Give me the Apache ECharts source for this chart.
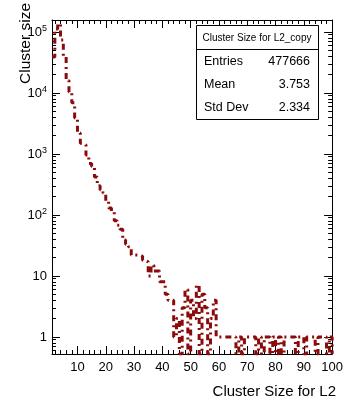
<!DOCTYPE html>
<html>
<head>
<meta charset="utf-8">
<script src="https://cdn.jsdelivr.net/npm/echarts@6/dist/echarts.min.js"></script>
<style>
  html, body { margin: 0; padding: 0; background: #fff; }
  #chart { width: 346px; height: 400px; }
</style>
</head>
<body>
<div id="chart"></div>
<script>
// cluster size histogram, bins of width 1 starting at 1
const binStart = 1;
const counts = [
  39000, 112000, 135000, 74000, 39000, 16000, 10400, 6900, 3900, 2200,
  1500, 1400, 960, 700, 620, 420, 300, 260, 230, 165,
  130, 112, 80, 68, 58, 39, 33, 30, 22, 22,
  22, 21, 18, 17, 10, 15, 12, 12, 8, 8,
  5, 4, 4, 1, 2, 0, 3, 6, 0, 4,
  2, 7, 0, 5, 3, 0, 2, 4, 1, 1,
  1, 1, 1, 1, 1, 0, 1, 0, 1, 1,
  1, 1, 0, 1, 0, 1, 1, 0, 1, 0,
  1, 0, 1, 1, 1, 1, 0, 1, 1, 0,
  1, 1, 1, 0, 1, 1, 1, 0, 1
];

const xMajorTicks = [10, 20, 30, 40, 50, 60, 70, 80, 90, 100];
const xMinorTicks = [2, 4, 6, 8, 12, 14, 16, 18, 22, 24, 26, 28, 32, 34, 36, 38,
  42, 44, 46, 48, 52, 54, 56, 58, 62, 64, 66, 68, 72, 74, 76, 78,
  82, 84, 86, 88, 92, 94, 96, 98];
const yMajorTicks = [1, 10, 100, 1000, 10000, 100000];
const yMinorTicks = [0.6, 0.7, 0.8, 0.9,
  2, 3, 4, 5, 6, 7, 8, 9, 20, 30, 40, 50, 60, 70, 80, 90,
  200, 300, 400, 500, 600, 700, 800, 900,
  2000, 3000, 4000, 5000, 6000, 7000, 8000, 9000,
  20000, 30000, 40000, 50000, 60000, 70000, 80000, 90000];

const stats = [
  ['Entries', '477666'],
  ['Mean', '3.753'],
  ['Std Dev', '2.334']
];

const X_MIN = 1, X_MAX = 100;
const Y_MIN = 0.525, Y_MAX = 157000;
const FONT = 'Liberation Sans, Arial, Helvetica, sans-serif';
const RED = '#8b0a0a';

// step outline; empty bins sit on the frame bottom like ROOT does
const pts = counts.map((c, i) => [binStart + i, c > 0 ? c : Y_MIN]);
pts.push([binStart + counts.length, pts[pts.length - 1][1]]);
pts.push([binStart + counts.length, Y_MIN]);

const line = { show: true, onZero: false, lineStyle: { color: '#000', width: 1 } };
const noLine = { show: false };

function xAxisDef(pos, ticks, len, main) {
  return {
    type: 'value', position: pos, min: X_MIN, max: X_MAX,
    axisLine: main ? line : noLine,
    splitLine: { show: false },
    axisTick: { show: true, inside: true, length: len, customValues: ticks,
      lineStyle: { color: '#000', width: 1 } },
    axisLabel: (main && pos === 'bottom') ? {
      show: true, customValues: xMajorTicks, margin: 7,
      color: '#000', fontSize: 13, fontFamily: FONT
    } : { show: false }
  };
}

function yAxisDef(pos, ticks, len, main) {
  return {
    type: 'log', logBase: 10, position: pos, min: Y_MIN, max: Y_MAX,
    axisLine: main ? line : noLine,
    splitLine: { show: false },
    axisTick: { show: true, inside: true, length: len, customValues: ticks,
      lineStyle: { color: '#000', width: 1 } },
    axisLabel: (main && pos === 'left') ? {
      show: true, customValues: yMajorTicks, margin: 5,
      color: '#000', fontSize: 13, fontFamily: FONT,
      formatter: v => {
        const p = Math.round(Math.log10(v));
        if (p === 0) return '1';
        if (p === 1) return '10';
        return '10{sup|' + p + '}';
      },
      rich: { sup: { fontSize: 9, fontFamily: FONT, color: '#000',
        verticalAlign: 'top', padding: [0, 0, 6, 0] } }
    } : { show: false }
  };
}

const statsGraphics = [
  { type: 'rect', shape: { x: 196.5, y: 25.5, width: 122, height: 94 },
    style: { fill: '#fff', stroke: '#000', lineWidth: 1 }, z: 10 },
  { type: 'line', shape: { x1: 196.5, y1: 49.5, x2: 318.5, y2: 49.5 },
    style: { stroke: '#000', lineWidth: 1 }, z: 11 },
  { type: 'text', x: 257, y: 38, z: 11,
    style: { text: 'Cluster Size for L2_copy', fontSize: 10, fontFamily: FONT,
      fill: '#000', align: 'center', verticalAlign: 'middle' } }
];
stats.forEach((row, i) => {
  const y = 62 + i * 22.8;
  statsGraphics.push({ type: 'text', x: 204, y: y, z: 11,
    style: { text: row[0], fontSize: 12.5, fontFamily: FONT, fill: '#000',
      align: 'left', verticalAlign: 'middle' } });
  statsGraphics.push({ type: 'text', x: 310, y: y, z: 11,
    style: { text: row[1], fontSize: 12.5, fontFamily: FONT, fill: '#000',
      align: 'right', verticalAlign: 'middle' } });
});

const chart = echarts.init(document.getElementById('chart'), null, { renderer: 'canvas' });
chart.setOption({
  animation: false,
  backgroundColor: '#fff',
  grid: { left: 52, right: 10, top: 20, bottom: 46, containLabel: false },
  xAxis: [
    xAxisDef('bottom', xMajorTicks, 8, true),
    xAxisDef('bottom', xMinorTicks, 4, false),
    xAxisDef('top', xMajorTicks, 8, true),
    xAxisDef('top', xMinorTicks, 4, false)
  ],
  yAxis: [
    yAxisDef('left', yMajorTicks, 8, true),
    yAxisDef('left', yMinorTicks, 4, false),
    yAxisDef('right', yMajorTicks, 8, true),
    yAxisDef('right', yMinorTicks, 4, false)
  ],
  series: [{
    type: 'line',
    xAxisIndex: 0, yAxisIndex: 0,
    step: 'end',
    showSymbol: false,
    symbol: 'none',
    clip: true,
    data: pts,
    lineStyle: { color: RED, width: 3, type: [6, 4, 2, 4], cap: 'butt' },
    z: 3
  }],
  graphic: [
    { type: 'text', x: 336, y: 392,
      style: { text: 'Cluster Size for L2', fontSize: 15, fontFamily: FONT,
        fill: '#000', align: 'right', verticalAlign: 'middle' } },
    { type: 'text', x: 26, y: 3, rotation: Math.PI / 2,
      style: { text: 'Cluster size', fontSize: 15.5, fontFamily: FONT,
        fill: '#000', align: 'right', verticalAlign: 'middle' } }
  ].concat(statsGraphics)
});
</script>
</body>
</html>
